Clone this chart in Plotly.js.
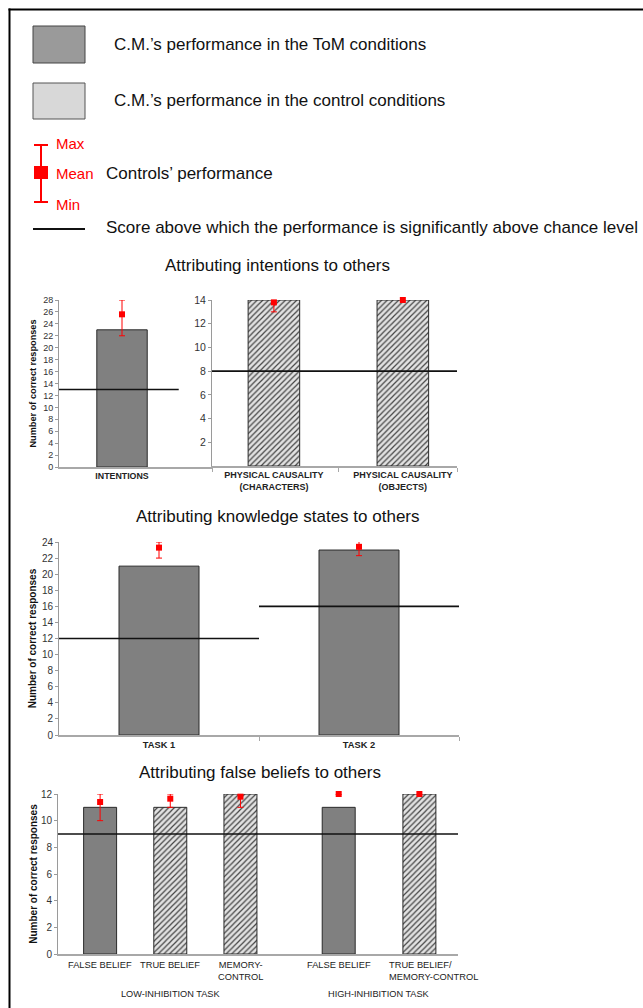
<!DOCTYPE html>
<html><head><meta charset="utf-8">
<script src="https://cdn.plot.ly/plotly-3.0.1.min.js"></script>
<style>html,body{margin:0;padding:0;background:#fff}#chart{width:643px;height:1008px}</style>
</head><body><div id="chart"></div>
<script>
// ---------------- data ----------------
const legendLabels = [
  "C.M.\u2019s performance in the ToM conditions",
  "C.M.\u2019s performance in the control conditions",
  "Controls\u2019 performance",
  "Score above which the performance is significantly above chance level"
];
const rangeLabels = ["Max", "Mean", "Min"];
const panelTitles = ["Attributing intentions to others", "Attributing knowledge states to others", "Attributing false beliefs to others"];
const yTitle = "Number of correct responses";

// Panel 1a – intentions
const intentCats = ["INTENTIONS"];
const intentScores = [23];
const intentMean = [25.6];
const intentMax = [28];
const intentMin = [22];
const intentChance = [13];

// Panel 1b – physical causality
const physCats = ["PHYSICAL CAUSALITY<br>(CHARACTERS)", "PHYSICAL CAUSALITY<br>(OBJECTS)"];
const physScores = [14, 14];
const physMean = [13.8, 14];
const physMax = [14, 14];
const physMin = [13, 14];
const physChance = [8];
const physTickVals = [2, 4, 6, 8, 10, 12, 14];

// Panel 2 – knowledge states
const knowCats = ["TASK 1", "TASK 2"];
const knowScores = [21, 23];
const knowMean = [23.3, 23.4];
const knowMax = [24, 24.2];
const knowMin = [22, 22.3];
const knowChance = [12, 16];

// Panel 3 – false beliefs
const fbCats = ["FALSE BELIEF", "TRUE BELIEF", "MEMORY-<br>CONTROL", "FALSE BELIEF", "TRUE BELIEF/<br>MEMORY-CONTROL"];
const fbKind = ["tom", "ctrl", "ctrl", "tom", "ctrl"];
const fbScores = [11, 11, 12, 11, 12];
const fbMean = [11.4, 11.65, 11.8, 12, 12];
const fbMax = [12, 12, 12, 12, 12];
const fbMin = [10, 11, 11, 12, 12];
const fbChance = [9];
const fbGroups = ["LOW-INHIBITION TASK", "HIGH-INHIBITION TASK"];
const fbGroupOf = [0, 0, 0, 1, 1];
const fbSlots = [0, 1, 2, 3.4, 4.55];

// ---------------- styling helpers ----------------
const W = 643, H = 1008;
const FONT = "Liberation Sans, Arial, sans-serif";
const RED = "#ff0000";
const TOM_FILL = "#808080";
const CTRL_BG = "#e2e2e2";
const EDGE = "#2a2a2a";
const px = x => x / W;
const py = y => 1 - y / H;
const idx = a => a.map((_, i) => i);

function barTrace(xs, ys, kinds, width, xa, ya) {
  return {
    type: "bar", x: xs, y: ys, xaxis: xa, yaxis: ya, width: width,
    marker: {
      color: kinds.map(k => k === "tom" ? TOM_FILL : CTRL_BG),
      line: {color: EDGE, width: 1},
      pattern: {shape: kinds.map(k => k === "tom" ? "" : "/"), fillmode: "overlay", fgcolor: "#555555", fgopacity: 1, size: 4, solidity: 0.3}
    },
    hoverinfo: "skip"
  };
}
function ctrlTrace(xs, mean, mx, mn, xa, ya) {
  const flat = mean.map((m, i) => mx[i] === m && mn[i] === m);
  return {
    type: "scatter", mode: "markers", x: xs, y: mean, xaxis: xa, yaxis: ya, cliponaxis: false,
    marker: {symbol: "square", size: 6, color: RED},
    error_y: {type: "data", symmetric: false,
      array: mean.map((m, i) => flat[i] ? null : mx[i] - m),
      arrayminus: mean.map((m, i) => flat[i] ? null : m - mn[i]),
      color: RED, thickness: 1, width: 3},
    hoverinfo: "skip"
  };
}
function lineTrace(x0, x1, y, xa, ya) {
  return {type: "scatter", mode: "lines", x: [x0, x1], y: [y, y], xaxis: xa, yaxis: ya,
    line: {color: "#111", width: 1.6}, hoverinfo: "skip"};
}

const traces = [];
// Panel 1a
const r1a = [-0.5, 0.714];
traces.push(barTrace(idx(intentCats), intentScores, intentCats.map(() => "tom"), 0.4, "x", "y"));
traces.push(lineTrace(-0.5, 0.45, intentChance[0], "x", "y"));
traces.push(ctrlTrace(idx(intentCats), intentMean, intentMax, intentMin, "x", "y"));
// Panel 1b
const r1b = [-0.48, 1.42];
traces.push(barTrace(idx(physCats), physScores, physCats.map(() => "ctrl"), 0.4, "x2", "y2"));
traces.push(lineTrace(r1b[0], r1b[1], physChance[0], "x2", "y2"));
traces.push(ctrlTrace(idx(physCats), physMean, physMax, physMin, "x2", "y2"));
// Panel 2
const r2 = [-0.5, 1.5];
traces.push(barTrace(idx(knowCats), knowScores, knowCats.map(() => "tom"), 0.4, "x3", "y3"));
knowChance.forEach((c, i) => traces.push(lineTrace(i - 0.5, i + 0.5, c, "x3", "y3")));
traces.push(ctrlTrace(idx(knowCats), knowMean, knowMax, knowMin, "x3", "y3"));
// Panel 3
const r3 = [-0.6, 5.1];
traces.push(barTrace(fbSlots, fbScores, fbKind, 0.47, "x4", "y4"));
traces.push(lineTrace(r3[0], r3[1], fbChance[0], "x4", "y4"));
traces.push(ctrlTrace(fbSlots, fbMean, fbMax, fbMin, "x4", "y4"));

function xAxis(d0, d1, range, tickvals, ticktext, font, anchor, minorVals, showLabels) {
  return {
    domain: [px(d0), px(d1)], range: range, anchor: anchor, type: "linear",
    showgrid: false, zeroline: false, showline: true, linecolor: "#a8a8a8", linewidth: 1.5,
    tickmode: "array", tickvals: tickvals, ticktext: ticktext, ticks: "", tickangle: 0,
    showticklabels: showLabels !== false,
    tickfont: font, fixedrange: true,
    minor: minorVals ? {tickmode: "array", tickvals: minorVals, ticks: "outside", ticklen: 4, tickcolor: "#a8a8a8", showgrid: false} : undefined
  };
}
function yAxis(top, bottom, range, tickopts, fontSize, anchor, titleSize, standoff) {
  const ax = Object.assign({
    domain: [py(bottom), py(top)], range: range, anchor: anchor,
    showgrid: false, zeroline: false, showline: true, linecolor: "#9a9a9a", linewidth: 1,
    ticks: "outside", ticklen: 3, tickcolor: "#9a9a9a",
    tickfont: {family: FONT, size: fontSize, color: "#333"}, fixedrange: true
  }, tickopts);
  if (titleSize) ax.title = {text: "<b>" + yTitle + "</b>", font: {family: FONT, size: titleSize, color: "#111"}, standoff: standoff};
  return ax;
}

const layout = {
  width: W, height: H, margin: {l: 0, r: 0, t: 0, b: 0},
  paper_bgcolor: "#fff", plot_bgcolor: "rgba(0,0,0,0)", showlegend: false,
  font: {family: FONT, color: "#222"},
  xaxis: xAxis(59, 212, r1a, idx(intentCats), intentCats.map(t => "<b>" + t + "</b>"), {family: FONT, size: 8.8, color: "#222"}, "y"),
  yaxis: yAxis(300, 467, [0, 28], {dtick: 2, tick0: 0}, 9, "x", 9.2, 4),
  xaxis2: xAxis(212, 457, r1b, idx(physCats), physCats.map(t => "<b>" + t + "</b>"), {family: FONT, size: 9, color: "#222"}, "y2", [-0.48, 0.5, 1.42]),
  yaxis2: yAxis(300, 466, [0, 14], {tickmode: "array", tickvals: physTickVals}, 10.5, "x2"),
  xaxis3: xAxis(59, 459, r2, idx(knowCats), knowCats.map(t => "<b>" + t + "</b>"), {family: FONT, size: 9.3, color: "#222"}, "y3", [0.5, 1.5]),
  yaxis3: yAxis(542, 735, [0, 24], {dtick: 2, tick0: 0}, 10, "x3", 10, 3),
  xaxis4: xAxis(58, 458, r3, fbSlots, fbCats, {family: FONT, size: 9.3, color: "#222"}, "y4", null, false),
  yaxis4: yAxis(794, 954, [0, 12], {dtick: 2, tick0: 0}, 10, "x4", 10, 1),
  shapes: [], annotations: []
};

// frame
layout.shapes.push({type: "line", xref: "paper", yref: "paper", x0: px(9.5), x1: px(9.5), y0: py(8.5), y1: py(1010), line: {color: "#000", width: 2}});
layout.shapes.push({type: "line", xref: "paper", yref: "paper", x0: px(8.5), x1: px(645), y0: py(9.5), y1: py(9.5), line: {color: "#000", width: 2}});

// legend graphics
layout.shapes.push({type: "rect", xref: "paper", yref: "paper", x0: px(33), x1: px(85), y0: py(63), y1: py(26), fillcolor: "#9a9a9a", line: {color: "#444", width: 1}});
layout.shapes.push({type: "rect", xref: "paper", yref: "paper", x0: px(33), x1: px(85), y0: py(119), y1: py(83), fillcolor: "#d8d8d8", line: {color: "#555", width: 1}});
layout.shapes.push({type: "line", xref: "paper", yref: "paper", x0: px(41), x1: px(41), y0: py(145), y1: py(202), line: {color: RED, width: 2}});
layout.shapes.push({type: "line", xref: "paper", yref: "paper", x0: px(34), x1: px(48), y0: py(145), y1: py(145), line: {color: RED, width: 2}});
layout.shapes.push({type: "line", xref: "paper", yref: "paper", x0: px(34), x1: px(48), y0: py(202), y1: py(202), line: {color: RED, width: 2}});
layout.shapes.push({type: "rect", xref: "paper", yref: "paper", x0: px(34), x1: px(48), y0: py(179), y1: py(166), fillcolor: RED, line: {width: 0}});
layout.shapes.push({type: "line", xref: "paper", yref: "paper", x0: px(33), x1: px(85), y0: py(229), y1: py(229), line: {color: "#111", width: 2}});

const legY = [45, 101, 173, 228];
const legX = [112, 112, 104, 104];
legendLabels.forEach((t, i) => layout.annotations.push({
  xref: "paper", yref: "paper", x: px(legX[i]), y: py(legY[i]), xanchor: "left", yanchor: "middle",
  text: t, showarrow: false, font: {family: FONT, size: 17, color: "#111"}
}));
const rlY = [144, 173, 205];
rangeLabels.forEach((t, i) => layout.annotations.push({
  xref: "paper", yref: "paper", x: px(54), y: py(rlY[i]), xanchor: "left", yanchor: "middle",
  text: t, showarrow: false, font: {family: FONT, size: 15, color: RED}
}));

// panel titles
const titleY = [266, 516, 772];
const titleX = [277, 278, 260];
panelTitles.forEach((t, i) => layout.annotations.push({
  xref: "paper", yref: "paper", x: px(titleX[i]), y: py(titleY[i]), xanchor: "center", yanchor: "middle",
  text: t, showarrow: false, font: {family: FONT, size: 17, color: "#111"}
}));

// category labels in panel 3 (placed on the x4 scale)
fbCats.forEach((c, i) => {
  const multiLast = i === fbCats.length - 1;
  layout.annotations.push({xref: "x4", yref: "paper", x: fbSlots[i], y: py(958), xanchor: multiLast ? "left" : "center", yanchor: "top",
    xshift: multiLast ? -32 : 0, align: multiLast ? "left" : "center",
    text: c, showarrow: false, font: {family: FONT, size: 9.3, color: "#222"}});
});
// group labels in panel 3
fbGroups.forEach((g, gi) => {
  const slots = fbSlots.filter((_, i) => fbGroupOf[i] === gi);
  const mid = slots.reduce((a, b) => a + b, 0) / slots.length;
  layout.annotations.push({xref: "x4", yref: "paper", x: mid, y: py(994), xanchor: "center", yanchor: "middle",
    text: g, showarrow: false, font: {family: FONT, size: 9.2, color: "#222"}});
});

Plotly.newPlot("chart", traces, layout, {staticPlot: true, displayModeBar: false});
</script>
</body></html>
